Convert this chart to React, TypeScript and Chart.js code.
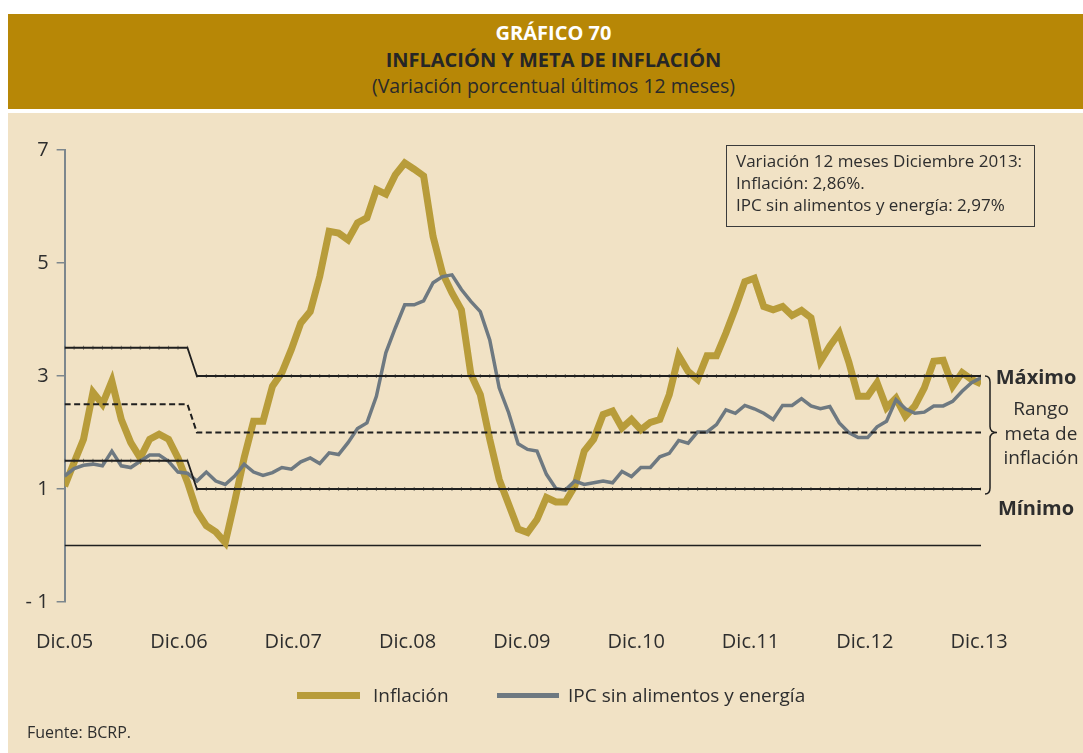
import React, { useEffect, useRef } from "react";
import { Chart, registerables } from "chart.js";

Chart.register(...registerables);

const FONT = "'Open Sans', 'Noto Sans', 'DejaVu Sans', sans-serif";
const TEXT = "#2e2e2e";
const GOLD_BAND = "#b78706";
const BEIGE = "#f1e2c5";
const GOLD_LINE = "#b89c3a";
const GREY_LINE = "#6e7981";
const AXIS_GREY = "#7d878d";
const BLACK = "#1f1f1f";

// Monthly series, Nov.05 .. Dic.13 (98 months)
const monthNames = ["Ene", "Feb", "Mar", "Abr", "May", "Jun", "Jul", "Ago", "Sep", "Oct", "Nov", "Dic"];
const firstYear = 2005;
const firstMonthIndex = 10; // Nov

const inflation = [
  1.05, 1.47, 1.88, 2.71, 2.5, 2.91, 2.23, 1.82, 1.55, 1.88, 1.97, 1.88, 1.55, 1.12,
  0.61, 0.35, 0.24, 0.05, 0.78, 1.55, 2.2, 2.2, 2.82, 3.06, 3.47, 3.94,
  4.14, 4.76, 5.56, 5.53, 5.41, 5.71, 5.8, 6.3, 6.22, 6.56, 6.77, 6.66,
  6.54, 5.47, 4.82, 4.47, 4.17, 3.03, 2.67, 1.88, 1.17, 0.73, 0.29, 0.23,
  0.46, 0.85, 0.77, 0.77, 1.05, 1.67, 1.88, 2.32, 2.38, 2.08, 2.23, 2.05,
  2.18, 2.23, 2.67, 3.36, 3.08, 2.94, 3.36, 3.36, 3.76, 4.2, 4.67, 4.73,
  4.23, 4.17, 4.23, 4.07, 4.16, 4.03, 3.26, 3.53, 3.76, 3.25, 2.64, 2.64,
  2.88, 2.44, 2.61, 2.29, 2.47, 2.79, 3.26, 3.28, 2.82, 3.06, 2.94, 2.86,
];

const coreInflation = [
  1.23, 1.36, 1.42, 1.44, 1.41, 1.67, 1.41, 1.38, 1.49, 1.6, 1.6, 1.49, 1.3, 1.28,
  1.14, 1.3, 1.14, 1.08, 1.23, 1.44, 1.3, 1.24, 1.29, 1.38, 1.35, 1.48,
  1.55, 1.45, 1.64, 1.61, 1.82, 2.07, 2.17, 2.64, 3.41, 3.85, 4.26, 4.26,
  4.33, 4.65, 4.76, 4.79, 4.53, 4.32, 4.14, 3.64, 2.79, 2.35, 1.8, 1.7,
  1.67, 1.26, 1.01, 0.98, 1.14, 1.08, 1.11, 1.14, 1.11, 1.31, 1.22, 1.38,
  1.38, 1.57, 1.63, 1.86, 1.81, 2.01, 2.01, 2.14, 2.4, 2.34, 2.48, 2.42,
  2.34, 2.23, 2.48, 2.48, 2.6, 2.47, 2.42, 2.46, 2.17, 2.0, 1.91, 1.91,
  2.1, 2.2, 2.58, 2.42, 2.34, 2.36, 2.47, 2.47, 2.55, 2.73, 2.88, 2.97,
];

// Inflation target band: periods start at month index (Nov.05, Ene.07)
const targetPeriodStart = [0, 14];
const targetMaxLevels = [3.5, 3.0];
const targetCenterLevels = [2.5, 2.0];
const targetMinLevels = [1.5, 1.0];

const xTickLabels = ["Dic.05", "Dic.06", "Dic.07", "Dic.08", "Dic.09", "Dic.10", "Dic.11", "Dic.12", "Dic.13"];
const xTickStep = 12.1; // labels evenly spread along the axis as in the source
const yTicks = [-1, 1, 3, 5, 7];

const months = inflation.map((_, i) => {
  const k = firstMonthIndex + i;
  return monthNames[k % 12] + "." + String(firstYear + Math.floor(k / 12)).slice(2);
});

function levelAt(levels: number[], i: number) {
  let v = levels[0];
  targetPeriodStart.forEach((s, p) => {
    if (i >= s) v = levels[p];
  });
  return v;
}

const toPoints = (arr: number[]) => arr.map((y, i) => ({ x: i, y }));
const targetSeries = (levels: number[]) => months.map((_, i) => ({ x: i, y: levelAt(levels, i) }));

const bracePlugin = {
  id: "rangeBrace",
  afterDatasetsDraw(chart: any) {
    const { ctx, chartArea, scales } = chart;
    const y = scales.y;
    const top = y.getPixelForValue(targetMaxLevels[1]);
    const mid = y.getPixelForValue(targetCenterLevels[1]);
    const bot = y.getPixelForValue(targetMinLevels[1]) + 5;
    const x0 = chartArea.right + 4;
    const xm = x0 + 5;
    const xt = x0 + 12;
    const r = 6;
    ctx.save();
    ctx.strokeStyle = BLACK;
    ctx.lineWidth = 1.5;
    ctx.beginPath();
    ctx.moveTo(x0, top);
    ctx.quadraticCurveTo(xm, top, xm, top + r);
    ctx.lineTo(xm, mid - r);
    ctx.quadraticCurveTo(xm, mid, xt, mid);
    ctx.quadraticCurveTo(xm, mid, xm, mid + r);
    ctx.lineTo(xm, bot - r);
    ctx.quadraticCurveTo(xm, bot, x0, bot);
    ctx.stroke();
    ctx.restore();
  },
};

const abs = (left: number, top: number, extra: React.CSSProperties = {}): React.CSSProperties => ({
  position: "absolute",
  left,
  top,
  whiteSpace: "nowrap",
  fontFamily: FONT,
  color: TEXT,
  ...extra,
});

export default function App() {
  const canvasRef = useRef<HTMLCanvasElement | null>(null);

  useEffect(() => {
    if (!canvasRef.current) return;
    const targetLine = {
      borderColor: BLACK,
      borderWidth: 1.8,
      pointStyle: "line" as const,
      pointRotation: 90,
      pointRadius: 2,
      pointBorderColor: "rgba(40,40,40,0.7)",
      pointBorderWidth: 0.8,
      pointHoverRadius: 0,
      fill: false,
      tension: 0,
    };
    const chart = new Chart(canvasRef.current, {
      type: "line",
      data: {
        datasets: [
          { label: "Máximo", data: targetSeries(targetMaxLevels), order: 0, ...targetLine },
          {
            label: "Meta",
            data: targetSeries(targetCenterLevels),
            order: 0,
            borderColor: BLACK,
            borderWidth: 2,
            borderDash: [6, 3.5],
            pointRadius: 0,
            fill: false,
            tension: 0,
          },
          { label: "Mínimo", data: targetSeries(targetMinLevels), order: 0, ...targetLine },
          {
            label: "IPC sin alimentos y energía",
            data: toPoints(coreInflation),
            order: 1,
            borderColor: GREY_LINE,
            borderWidth: 3.5,
            pointRadius: 0,
            fill: false,
            tension: 0,
          },
          {
            label: "Inflación",
            data: toPoints(inflation),
            order: 2,
            borderColor: GOLD_LINE,
            borderWidth: 7,
            pointRadius: 0,
            fill: false,
            tension: 0,
          },
          {
            label: "cero",
            data: [
              { x: 0, y: 0 },
              { x: months.length - 1, y: 0 },
            ],
            order: 3,
            borderColor: BLACK,
            borderWidth: 1.5,
            pointRadius: 0,
            fill: false,
          },
        ],
      },
      options: {
        animation: false,
        responsive: false,
        maintainAspectRatio: false,
        devicePixelRatio: 1,
        events: [],
        layout: { padding: { left: 0, top: 37, right: 102, bottom: 0 } },
        plugins: {
          legend: { display: false },
          tooltip: { enabled: false },
        },
        scales: {
          x: {
            type: "linear",
            min: 0,
            max: months.length - 1,
            grid: { display: false, drawTicks: false },
            border: { display: false },
            afterBuildTicks: (axis: any) => {
              axis.ticks = xTickLabels.map((_, k) => ({ value: k * xTickStep }));
            },
            afterFit: (s: any) => {
              s.height = 151;
            },
            ticks: {
              autoSkip: false,
              maxRotation: 0,
              padding: 28,
              color: TEXT,
              font: { family: FONT, size: 20 },
              callback: (_v: any, idx: number) => xTickLabels[idx],
            },
          },
          y: {
            min: yTicks[0],
            max: yTicks[yTicks.length - 1],
            afterBuildTicks: (axis: any) => {
              axis.ticks = yTicks.map((v) => ({ value: v }));
            },
            afterFit: (s: any) => {
              s.width = 55;
            },
            grid: {
              drawOnChartArea: false,
              drawTicks: true,
              tickLength: 8,
              color: AXIS_GREY,
              lineWidth: 1.5,
            },
            border: { display: true, color: AXIS_GREY, width: 2 },
            ticks: {
              padding: 8,
              color: TEXT,
              font: { family: FONT, size: 20 },
              callback: (v: any) => (Number(v) < 0 ? "- " + Math.abs(Number(v)) : String(v)),
            },
          },
        },
      },
      plugins: [bracePlugin],
    });
    return () => chart.destroy();
  }, []);

  return (
    <div
      style={{
        position: "fixed",
        left: 0,
        top: 0,
        width: 1083,
        height: 753,
        overflow: "hidden",
        background: "#ffffff",
      }}
    >
      <div style={{ position: "absolute", left: 8, top: 14, width: 1075, height: 95, background: GOLD_BAND }} />
      <div style={{ position: "absolute", left: 8, top: 113, width: 1075, height: 640, background: BEIGE }} />

      <div style={abs(253.5, 21, { width: 600, textAlign: "center", fontSize: 20, fontWeight: 700, lineHeight: "24px", color: "#ffffff" })}>
        GRÁFICO 70
      </div>
      <div style={abs(253.5, 48, { width: 600, textAlign: "center", fontSize: 20, fontWeight: 700, lineHeight: "24px", color: "#262626" })}>
        INFLACIÓN Y META DE INFLACIÓN
      </div>
      <div style={abs(253.5, 74, { width: 600, textAlign: "center", fontSize: 19.5, lineHeight: "24px", color: "#2a2a2a" })}>
        (Variación porcentual últimos 12 meses)
      </div>

      <canvas
        ref={canvasRef}
        width={1075}
        height={640}
        style={{ position: "absolute", left: 8, top: 113, width: 1075, height: 640 }}
      />

      <div
        style={abs(726, 145, {
          width: 309,
          height: 82,
          boxSizing: "border-box",
          border: "1px solid #3b3b3b",
          padding: "4px 0 0 9px",
          fontSize: 17,
          lineHeight: "22px",
        })}
      >
        <div>Variación 12 meses Diciembre 2013:</div>
        <div>Inflación: 2,86%.</div>
        <div>IPC sin alimentos y energía: 2,97%</div>
      </div>

      <div style={abs(986, 364, { width: 100, textAlign: "center", fontSize: 20, fontWeight: 700, lineHeight: "26px" })}>Máximo</div>
      <div style={abs(991, 396, { width: 100, textAlign: "center", fontSize: 19, lineHeight: "24.5px" })}>
        <div>Rango</div>
        <div>meta de</div>
        <div>inflación</div>
      </div>
      <div style={abs(986, 495, { width: 100, textAlign: "center", fontSize: 20, fontWeight: 700, lineHeight: "26px" })}>Mínimo</div>

      <div style={{ position: "absolute", left: 297, top: 691.5, width: 63, height: 7, background: GOLD_LINE }} />
      <div style={abs(373, 683, { fontSize: 19, lineHeight: "24px" })}>Inflación</div>
      <div style={{ position: "absolute", left: 497, top: 692.5, width: 62, height: 5, background: GREY_LINE }} />
      <div style={abs(568, 683, { fontSize: 19, lineHeight: "24px" })}>IPC sin alimentos y energía</div>

      <div style={abs(27, 721, { fontSize: 16, lineHeight: "22px" })}>Fuente: BCRP.</div>
    </div>
  );
}
